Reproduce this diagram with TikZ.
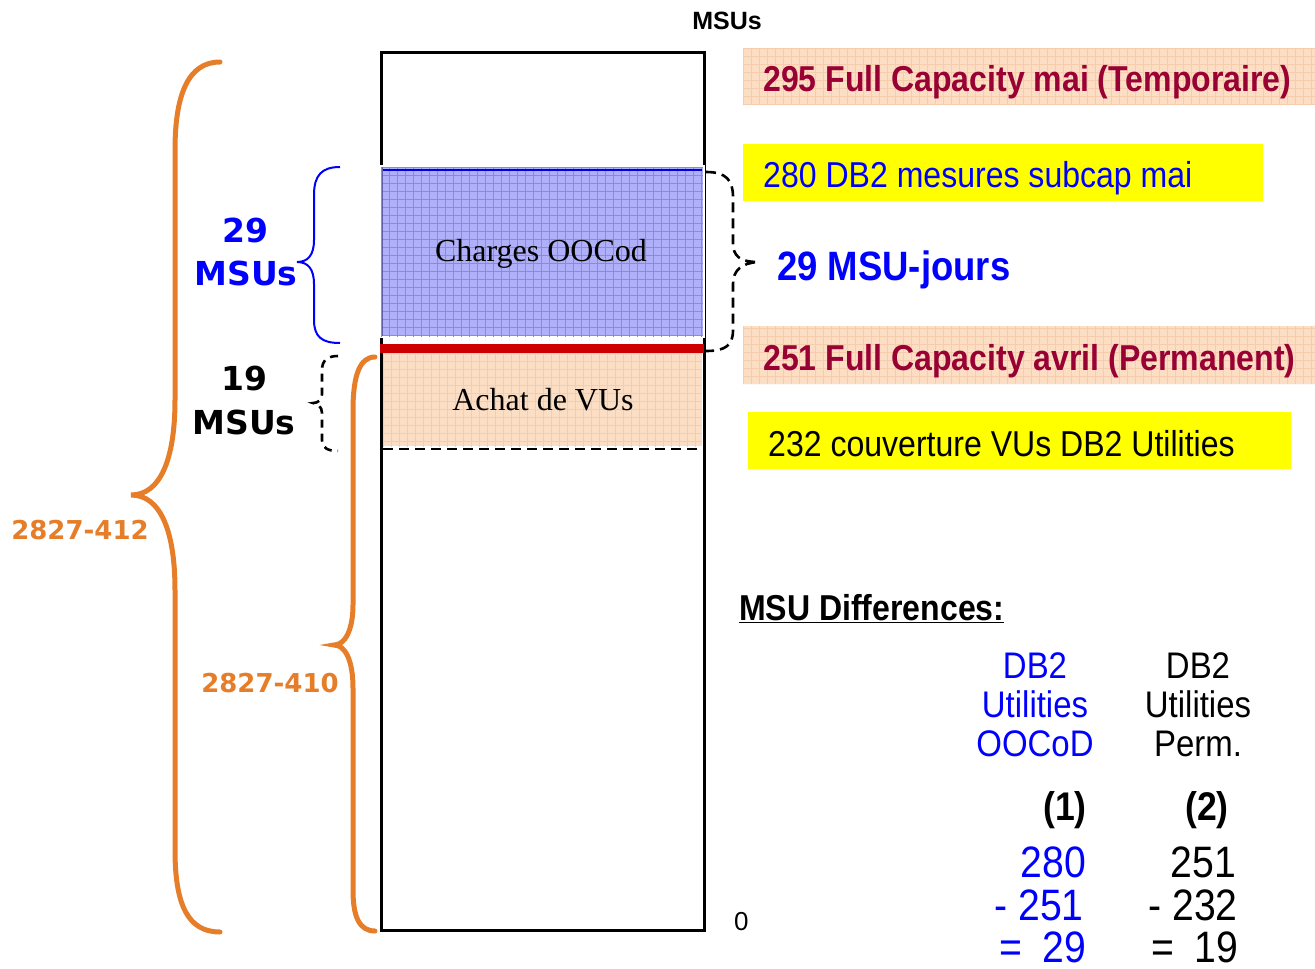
\documentclass[tikz,border=0pt]{standalone}
\usepackage{fontspec}
\setmainfont{Liberation Sans}
\newfontfamily\arn{Liberation Sans}[FakeStretch=0.89]
\newfontfamily\tms{Liberation Serif}
\newfontfamily\dvs{DejaVu Sans}
\definecolor{orng}{RGB}{230,125,40}
\definecolor{dred}{RGB}{153,0,51}
\definecolor{peach}{RGB}{252,222,196}
\definecolor{peachl}{RGB}{247,204,172}
\definecolor{lblue}{RGB}{176,176,250}
\definecolor{gblue}{RGB}{135,135,242}
\definecolor{redbar}{RGB}{204,0,0}
\definecolor{yel}{RGB}{255,255,0}
\newcommand{\fsz}[1]{\fontsize{#1}{#1}\selectfont}
\tikzset{
  txt/.style={inner sep=0pt, anchor=base},
  txtw/.style={inner sep=0pt, anchor=base west},
  txte/.style={inner sep=0pt, anchor=base east},
  obrace/.style={draw=orng, line width=5pt, line cap=round},
  dbrace/.style={draw=black, line width=2.6pt, dash pattern=on 10pt off 6pt},
}
\begin{document}
\begin{tikzpicture}[x=1pt,y=-1pt]
\useasboundingbox (0,0) rectangle (1315,969);
% ---------- right-hand label boxes ----------
\fill[peach] (743,48) rectangle (1315,105);
\fill[peach] (743,326) rectangle (1315,384);
\fill[yel] (743,144) rectangle (1263,201);
\fill[yel] (748,412) rectangle (1291,469);
\begin{scope}
  \clip (743,48) rectangle (1315,105) (743,326) rectangle (1315,384);
  \foreach \i in {0,8,...,580} \draw[peachl, line width=0.5pt] (743+\i,40) -- (743+\i,390);
  \foreach \j in {48,56,...,384} \draw[peachl, line width=0.5pt] (743,\j) -- (1315,\j);
\end{scope}
% ---------- main column ----------
\draw[line width=3pt] (381,52) rectangle (704,930);
% orange area
\fill[peach] (383,353) rectangle (702,446);
\begin{scope}
  \clip (383,353) rectangle (702,446);
  \foreach \i in {0,8,...,320} \draw[peachl, line width=0.5pt] (383+\i,350) -- (383+\i,450);
  \foreach \j in {353,361,...,446} \draw[peachl, line width=0.5pt] (383,\j) -- (702,\j);
\end{scope}
% blue area
\fill[white] (379,165) rectangle (705,338);
\fill[lblue] (381,167) rectangle (703,336);
\begin{scope}
  \clip (381,167) rectangle (703,336);
  \foreach \i in {0,8,...,324} \draw[gblue, line width=0.5pt] (381+\i,160) -- (381+\i,340);
  \foreach \j in {167,175,...,336} \draw[gblue, line width=0.5pt] (381,\j) -- (703,\j);
\end{scope}
\draw[blue!85!black, line width=2pt] (382,170) -- (702,170);
\draw[gblue!70!black, line width=1pt] (382,167) -- (382,336);
% red bar
\fill[redbar] (380,344) rectangle (704,353);
% dashed line
\draw[dbrace] (383,449) -- (706,449);
% texts in column
\node[txt] (charges) at (541,261) {\tms\fsz{32}Charges OOCod};
\node[txt] (achat) at (543,410) {\tms\fsz{32}Achat de VUs};
\node[txt] (top) at (727,29) {\fsz{25}\bfseries MSUs};
\node[txtw] (zero) at (734,930) {\fsz{26}0};
% ---------- braces ----------
% big orange brace
\draw[obrace] (220,62) .. controls (188,62) and (175,95) .. (175,150) -- (175,400)
  .. controls (175,460) and (160,495) .. (131,495)
  .. controls (160,495) and (175,530) .. (175,590) -- (175,850)
  .. controls (175,905) and (188,932) .. (220,932);
% second orange brace
\draw[obrace] (375,357) .. controls (360,357) and (353,375) .. (353,410) -- (353,605)
  .. controls (353,630) and (345,645) .. (334,645)
  .. controls (345,645) and (353,660) .. (353,688) -- (353,890)
  .. controls (353,918) and (360,931) .. (375,931);
% blue brace
\draw[blue, line width=2pt] (340,167) .. controls (322,167) and (314,175) .. (314,195) -- (314,240)
  .. controls (314,255) and (308,262) .. (297,262)
  .. controls (308,262) and (314,269) .. (314,284) -- (314,320)
  .. controls (314,337) and (322,343) .. (340,343);
% small dashed brace
\draw[dbrace, dash pattern=on 8pt off 6pt] (338,356) .. controls (328,356) and (322,360) .. (322,370) -- (322,394)
  .. controls (322,400) and (318,403) .. (313,403)
  .. controls (318,404) and (322,407) .. (322,413) -- (322,440)
  .. controls (322,448) and (328,451) .. (338,451);
% right dashed brace
\draw[dbrace] (706,172) .. controls (726,172) and (733,180) .. (733,197) -- (733,243)
  .. controls (733,256) and (740,262) .. (758,262)
  .. controls (742,263) and (733,270) .. (733,284) -- (733,330)
  .. controls (733,345) and (726,351) .. (706,351);
% ---------- left labels ----------
\node[txt, text=blue] (l29) at (245,242) {\dvs\bfseries\fsz{33}29};
\node[txt, text=blue] (l29m) at (246,285) {\dvs\bfseries\fsz{33}MSUs};
\node[txt] (l19) at (244,390) {\dvs\bfseries\fsz{33}19};
\node[txt] (l19m) at (244,434) {\dvs\bfseries\fsz{33}MSUs};
\node[txt, text=orng] (o412) at (80,539) {\dvs\bfseries\fsz{26}2827-412};
\node[txt, text=orng] (o410) at (270,692) {\dvs\bfseries\fsz{26}2827-410};
% ---------- right labels ----------
\node[txtw, text=dred] (t295) at (763,91) {\arn\bfseries\fsz{36}295 Full Capacity mai (Temporaire)};
\node[txtw, text=blue] (t280) at (763,187) {\arn\fsz{36}280 DB2 mesures subcap mai};
\node[txtw, text=blue] (t29) at (777,280) {\arn\bfseries\fsz{41}29 MSU-jours};
\node[txtw, text=dred] (t251) at (763,370) {\arn\bfseries\fsz{36}251 Full Capacity avril (Permanent)};
\node[txtw] (t232) at (768,456) {\arn\fsz{36}232 couverture VUs DB2 Utilities};
% ---------- differences ----------
\node[txtw] (diff) at (739,620) {\arn\bfseries\fsz{36}\underline{MSU Differences:}};
\node[txt, text=blue] (c1a) at (1035,678) {\arn\fsz{37}DB2};
\node[txt, text=blue] (c1b) at (1035,717) {\arn\fsz{37}Utilities};
\node[txt, text=blue] (c1c) at (1035,756) {\arn\fsz{37}OOCoD};
\node[txt] (c2a) at (1198,678) {\arn\fsz{37}DB2};
\node[txt] (c2b) at (1198,717) {\arn\fsz{37}Utilities};
\node[txt] (c2c) at (1198,756) {\arn\fsz{37}Perm.};
\node[txte] (p1) at (1087,820) {\arn\bfseries\fsz{40}(1)};
\node[txte] (p2) at (1229,820) {\arn\bfseries\fsz{40}(2)};
\node[txte, text=blue] (n1a) at (1086,877) {\arn\fsz{44}280};
\node[txte, text=blue] (n1b) at (1084,920) {\arn\fsz{44}- 251};
\node[txte, text=blue] (n1c) at (1086,962) {\arn\fsz{44}=\hspace{0.45em}29};
\node[txte] (n2a) at (1236,877) {\arn\fsz{44}251};
\node[txte] (n2b) at (1238,920) {\arn\fsz{44}- 232};
\node[txte] (n2c) at (1238,962) {\arn\fsz{44}=\hspace{0.45em}19};
\end{tikzpicture}
\end{document}
